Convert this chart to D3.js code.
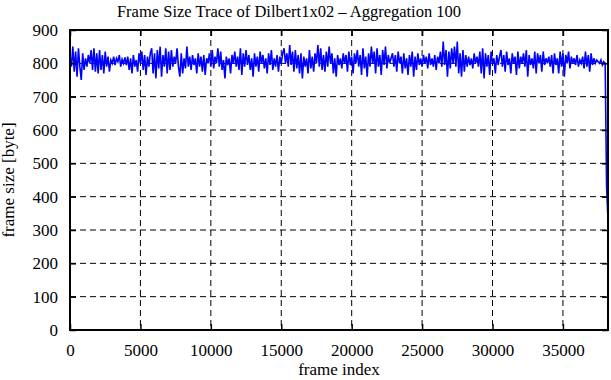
<!DOCTYPE html>
<html>
<head>
<meta charset="utf-8">
<script src="https://cdn.jsdelivr.net/npm/d3@7"></script>
<style>
  body { margin: 0; background: #fff; }
  text { font-family: "Liberation Serif", "DejaVu Serif", serif; fill: #000; }
</style>
</head>
<body>
<div id="chart"></div>
<script>
// frame size trace, one value per 100 frames
var frameStep = 100
var frameSizes = [
  820, 790, 850, 775, 835, 760, 845, 790, 750, 830, 780,
  815, 790, 825, 800, 840, 780, 845, 775,
  830, 770, 840, 780, 825, 770, 835, 790, 820, 775,
  810, 800, 820, 795, 815, 805, 825, 790, 812, 800, 818, 795,
  820, 780, 815, 770, 825, 790, 810, 775, 830, 800,
  835, 780, 825, 765, 820, 790, 830,
  845, 770, 830, 755, 840, 785, 850, 760, 825, 790, 845, 770, 835, 780, 840, 790, 820, 800,
  // 76..151
  845, 790, 760, 830, 770, 815, 785, 850, 790, 820,
  780, 825, 795, 815, 770, 830, 790, 820, 775, 825,
  765, 815, 800, 830, 790, 840, 785, 820, 800, 845,
  790, 835, 780, 810, 755, 820, 795, 815, 770, 825,
  800, 835, 790, 820, 780, 845, 765, 830, 790, 840,
  795, 825, 780, 815, 760, 830, 790, 820, 775, 835,
  800, 825, 785, 815, 770, 830, 795, 840, 780, 815,
  790, 825, 775, 820, 800, 830,
  // 152..228
  845, 800, 830, 790, 855, 795, 835, 775, 840, 785,
  825, 770, 830, 755, 820, 790, 815, 770, 840, 785,
  820, 775, 830, 800, 855, 790, 845, 780, 825, 775,
  835, 790, 850, 800, 830, 770, 815, 760, 825, 795,
  815, 785, 830, 800, 825, 775, 835, 795, 820, 770,
  830, 800, 840, 790, 825, 765, 845, 785, 820, 760,
  830, 790, 850, 800, 835, 770, 845, 790, 825, 765,
  840, 795, 850, 785, 825, 800, 815,
  // 229..305
  830, 790, 825, 775, 835, 800, 820, 770, 830, 785,
  815, 765, 825, 790, 835, 760, 820, 780, 830, 795,
  815, 790, 825, 800, 820, 785, 830, 795, 815, 790,
  825, 780, 820, 800, 835, 790, 865, 795, 840, 760,
  835, 785, 845, 800, 850, 790, 865, 770, 830, 760,
  840, 775, 825, 790, 820, 795, 815, 785, 830, 800,
  820, 790, 835, 770, 845, 755, 830, 790, 825, 765,
  835, 800, 815, 770, 825, 795, 820,
  // 306..382
  840, 790, 825, 775, 835, 795, 815, 770, 830, 800,
  820, 765, 835, 785, 820, 800, 830, 790, 840, 760,
  825, 795, 815, 785, 835, 770, 830, 800, 825, 775,
  835, 795, 815, 800, 820, 790, 825, 770, 830, 795,
  815, 770, 835, 790, 830, 760, 825, 800, 835, 785,
  820, 800, 815, 795, 825, 790, 810, 800, 820, 785,
  835, 790, 825, 775, 830, 795, 815, 800, 810, 805,
  800, 810, 795, 805, 800, 430, 330
]
var xTicks = [0, 5000, 10000, 15000, 20000, 25000, 30000, 35000]
var yTicks = [0, 100, 200, 300, 400, 500, 600, 700, 800, 900]

var width = 611
var height = 380
var margin = { top: 30, right: 3, bottom: 50, left: 70 }
var plotW = width - margin.left - margin.right
var plotH = height - margin.top - margin.bottom

var svg = d3.select("#chart")
  .append("svg")
  .attr("width", width)
  .attr("height", height)

var g = svg.append("g")
  .attr("transform", `translate(${margin.left},${margin.top})`)

var xMax = (frameSizes.length - 1) * frameStep
var x = d3.scaleLinear().domain([0, xMax]).range([0, plotW])
var y = d3.scaleLinear().domain([0, 900]).range([plotH, 0])

// dashed grid
g.selectAll(".vgrid")
  .data(xTicks.filter(function (d) { return d > 0 }))
  .enter()
  .append("line")
  .attr("x1", function (d) { return x(d) }).attr("x2", function (d) { return x(d) })
  .attr("y1", 0).attr("y2", plotH)
  .attr("stroke", "#000").attr("stroke-width", 1)
  .attr("stroke-dasharray", "6,4")

g.selectAll(".hgrid")
  .data(yTicks.filter(function (d) { return d > 0 && d < 900 }))
  .enter()
  .append("line")
  .attr("x1", 0).attr("x2", plotW)
  .attr("y1", function (d) { return y(d) }).attr("y2", function (d) { return y(d) })
  .attr("stroke", "#000").attr("stroke-width", 1)
  .attr("stroke-dasharray", "6,4")

// the trace
var line = d3.line()
  .x(function (d, i) { return x(i * frameStep) })
  .y(function (d) { return y(d) })

g.append("path")
  .datum(frameSizes)
  .attr("d", line)
  .attr("fill", "none")
  .attr("stroke", "#0000ff")
  .attr("stroke-width", 1.6)

// axes, ticks inside (gnuplot style) and mirrored
var tickLen = 6
var fmt = d3.format("d")
g.append("g")
  .attr("transform", `translate(0,${plotH})`)
  .call(d3.axisBottom(x).tickValues(xTicks).tickFormat(fmt).tickSize(-tickLen).tickPadding(tickLen + 8))
g.append("g")
  .call(d3.axisTop(x).tickValues(xTicks).tickSize(-tickLen).tickFormat(""))
g.append("g")
  .call(d3.axisLeft(y).tickValues(yTicks).tickFormat(fmt).tickSize(-tickLen).tickPadding(tickLen + 6))
g.append("g")
  .attr("transform", `translate(${plotW},0)`)
  .call(d3.axisRight(y).tickValues(yTicks).tickSize(-tickLen).tickFormat(""))

g.selectAll(".domain").remove()
g.selectAll(".tick line").attr("stroke", "#000").attr("stroke-width", 1.5)
g.selectAll(".tick text").style("font-size", "17px").style("font-family", "Liberation Serif, serif")

// frame
g.append("rect")
  .attr("width", plotW).attr("height", plotH)
  .attr("fill", "none").attr("stroke", "#000").attr("stroke-width", 2)

// labels
svg.append("text")
  .attr("x", margin.left + plotW / 2 - 50).attr("y", 17)
  .attr("text-anchor", "middle").style("font-size", "16.5px")
  .text("Frame Size Trace of Dilbert1x02 \u2013 Aggregation 100")

svg.append("text")
  .attr("x", margin.left + plotW / 2).attr("y", 375)
  .attr("text-anchor", "middle").style("font-size", "17px")
  .text("frame index")

svg.append("text")
  .attr("transform", `translate(14,${margin.top + plotH / 2}) rotate(-90)`)
  .attr("text-anchor", "middle").style("font-size", "17px")
  .text("frame size [byte]")
</script>
</body>
</html>
